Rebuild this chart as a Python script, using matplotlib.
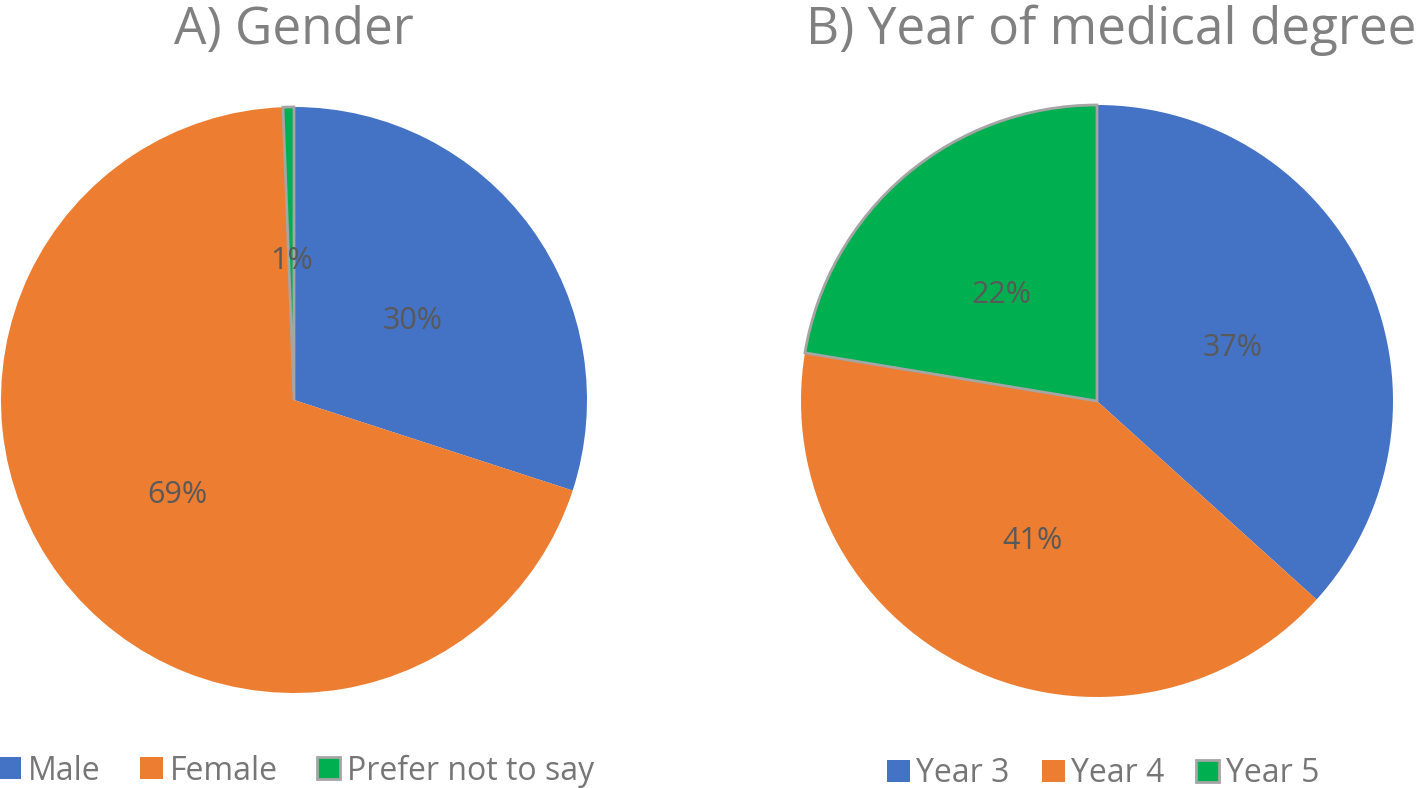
import matplotlib
matplotlib.use("Agg")
import matplotlib.pyplot as plt
from matplotlib.transforms import offset_copy

# data
gender_labels = ["Male", "Female", "Prefer not to say"]
gender_values = [30.0, 69.4, 0.6]
year_labels = ["Year 3", "Year 4", "Year 5"]
year_values = [36.7, 40.9, 22.4]

colors = ["#4472C4", "#ED7D31", "#00B050"]
W, H = 1424, 788

plt.rcParams['font.family'] = ['Open Sans', 'DejaVu Sans']

fig = plt.figure(figsize=(W / 100, H / 100), dpi=100)


def draw_pie(rect, values):
    ax = fig.add_axes(rect)
    wedges, texts, autotexts = ax.pie(
        values, colors=colors, startangle=90, counterclock=False,
        autopct=lambda p: f"{p:.0f}%", pctdistance=0.5,
        wedgeprops=dict(linewidth=0),
        textprops=dict(color="#595959", fontsize=22))
    # grey border on the green slice, as in the original
    wedges[2].set_edgecolor("#A5A5A5")
    wedges[2].set_linewidth(2)
    # nudge the percentage labels down a little
    for t in autotexts:
        t.set_transform(offset_copy(ax.transData, fig=fig, x=0, y=-7, units="dots"))
    ax.set_xlim(-1, 1)
    ax.set_ylim(-1, 1)
    ax.set_aspect("equal")
    ax.axis("off")
    return wedges


w1 = draw_pie([1 / W, 95 / H, 586 / W, 586 / H], gender_values)
w2 = draw_pie([801 / W, 91 / H, 592 / W, 592 / H], year_values)

fig.text(294 / W, 1 - 30 / H, "A) Gender", ha="center", va="center",
         fontsize=37, color="#808080")
fig.text(1111 / W, 1 - 30 / H, "B) Year of medical degree", ha="center", va="center",
         fontsize=37, color="#808080")

for wedges, labels, cx, cy, cs in [(w1, gender_labels, 296, 771, 1.25),
                                   (w2, year_labels, 1103, 774, 1.0)]:
    fig.legend(wedges, labels, loc="center", bbox_to_anchor=(cx / W, 1 - cy / H),
               ncol=3, frameon=False, fontsize=23, labelcolor="#767676",
               handlelength=0.72, handleheight=0.68, handletextpad=0.2,
               columnspacing=cs, borderpad=0, borderaxespad=0)

fig.savefig("out.png", dpi=100)
